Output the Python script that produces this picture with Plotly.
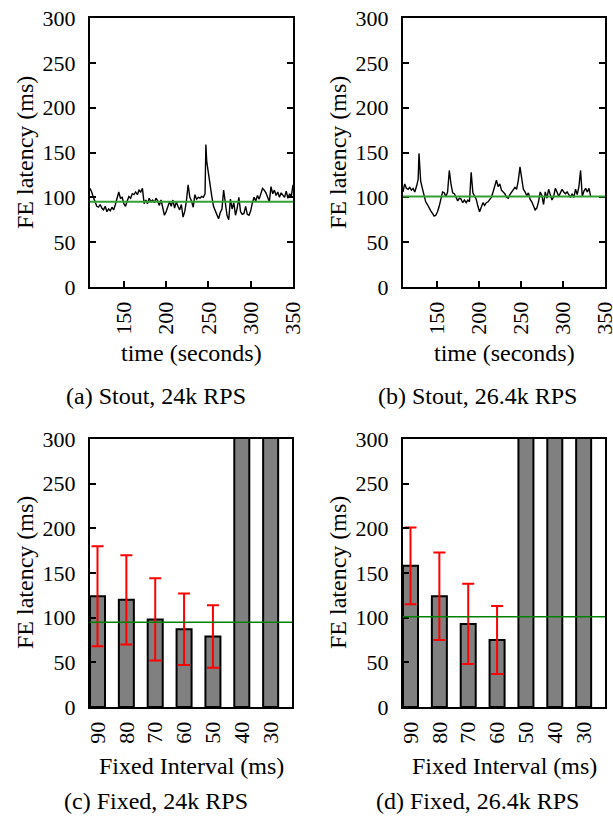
import plotly.graph_objects as go

# ---------------- data ----------------
t_a = [110,112,114,116,118,120,122,124,126,128,130,132,134,136,138,140,142,144,146,148,
       150,152,154,156,158,160,162,164,166,168,170,172,174,176,178,180,182,184,186,188,
       190,192,194,196,198,200,202,204,206,208,210,212,214,216,218,220,222,224,226,228,
       230,232,234,236,238,240,242,244,246,247,248,250,252,254,256,258,260,262,264,266,
       268,270,272,274,276,278,280,282,284,286,288,290,292,294,296,298,300,302,304,306,
       308,310,312,314,316,318,320,322,324,326,328,330,332,334,336,338,340,342,344,346,
       348,350]
lat_a = [110,106,100,95,90,89,92,88,86,90,84,87,85,89,86,92,98,106,99,100,
         93,90,96,101,99,104,103,106,103,108,106,110,93,97,93,99,95,97,94,99,
         96,91,97,87,80,84,90,95,90,97,88,95,90,86,92,78,84,96,114,100,
         96,89,103,98,100,99,101,100,104,159,140,125,112,101,90,85,81,76,83,87,
         108,92,80,75,98,87,94,80,88,100,84,81,82,90,81,80,85,94,100,96,
         102,98,104,110,108,105,100,95,112,104,108,102,106,100,105,103,100,107,99,104,
         101,114]
avg_a = 95

t_b = [110,112,114,116,118,120,122,124,126,128,129,131,133,135,137,139,141,143,145,147,
       149,151,153,155,157,159,161,163,165,167,169,171,173,175,177,179,181,183,185,187,
       189,191,193,195,197,199,201,203,205,207,209,211,213,215,217,219,221,223,225,227,
       229,231,233,235,237,239,241,243,245,247,249,251,253,255,257,259,261,263,265,267,
       269,271,273,275,277,279,281,283,285,287,289,291,293,295,297,299,301,303,305,307,
       309,311,313,315,317,319,321,323,325,327,329,331,333]
lat_b = [106,115,110,109,111,108,110,106,112,120,149,118,110,101,95,92,88,85,82,79,
         80,84,90,100,106,105,101,106,130,115,105,104,100,96,99,98,94,97,94,97,
         95,128,105,101,98,90,84,89,94,91,94,95,97,100,106,114,119,112,115,108,
         106,104,100,99,103,106,109,111,109,119,134,118,109,106,102,105,98,95,90,86,
         88,95,106,102,92,106,99,109,103,97,101,110,106,101,105,109,106,104,106,103,
         100,104,100,109,103,112,130,101,107,110,106,110,101]
avg_b = 101

intervals = ["90", "80", "70", "60", "50", "40", "30"]
fixed_c = [124, 120, 98, 87, 79, 1000, 1000]      # 40/30 ms bars run off the chart
err_c = [56, 50, 46, 40, 35, None, None]
fixed_d = [158, 124, 93, 75, 1000, 1000, 1000]    # 50/40/30 ms bars run off the chart
err_d = [43, 49, 45, 38, None, None, None]

y_ticks = [0, 50, 100, 150, 200, 250, 300]
x_ticks_time = [150, 200, 250, 300, 350]

W, H = 613, 824
FONT = "Liberation Serif"
TICK_FONT = dict(family=FONT, size=22, color="black")


def px_x(p):
    return p / W


def px_y(p):
    return 1 - p / H


fig = go.Figure()
fig.add_trace(go.Scatter(x=t_a, y=lat_a, mode="lines", line=dict(color="black", width=1.4),
                         xaxis="x", yaxis="y", showlegend=False))
fig.add_trace(go.Scatter(x=t_b, y=lat_b, mode="lines", line=dict(color="black", width=1.4),
                         xaxis="x2", yaxis="y2", showlegend=False))
pos = list(range(len(intervals)))
fig.add_trace(go.Bar(x=pos, y=fixed_c, width=0.52, xaxis="x3", yaxis="y3", showlegend=False,
                     marker=dict(color="#808080", line=dict(color="black", width=2)),
                     error_y=dict(type="data", array=[e if e else 0 for e in err_c],
                                  visible=True, color="red", thickness=2, width=6)))
fig.add_trace(go.Bar(x=pos, y=fixed_d, width=0.52, xaxis="x4", yaxis="y4", showlegend=False,
                     marker=dict(color="#808080", line=dict(color="black", width=2)),
                     error_y=dict(type="data", array=[e if e else 0 for e in err_d],
                                  visible=True, color="red", thickness=2, width=6)))

for ax, val, col, w in [("", avg_a, "#33a033", 2), ("2", avg_b, "#33a033", 2),
                        ("3", avg_a, "#008000", 1.5), ("4", avg_b, "#008000", 1.5)]:
    fig.add_shape(type="line", xref=f"x{ax} domain", yref=f"y{ax}", x0=0, x1=1,
                  y0=val, y1=val, line=dict(color=col, width=w), layer="above")

boxes = {
    "": (90, 293, 18, 287),
    "2": (403, 605, 18, 287),
    "3": (90, 292, 439, 707),
    "4": (403, 605, 439, 707),
}
common_axis = dict(showline=True, linecolor="black", linewidth=2, showgrid=False,
                   zeroline=False, tickfont=TICK_FONT, tickcolor="black", automargin=False,
                   ticklabeloverflow="allow")
layout = dict(width=W, height=H, margin=dict(l=0, r=0, t=0, b=0, pad=0, autoexpand=False),
              paper_bgcolor="white", plot_bgcolor="white", showlegend=False,
              font=dict(family=FONT, size=22, color="black"))
for k, (x0, x1, y0, y1) in boxes.items():
    xd = [px_x(x0), px_x(x1)]
    yd = [px_y(y1), px_y(y0)]
    xa = "xaxis" + k
    ya = "yaxis" + k
    if k in ("", "2"):
        layout[xa] = dict(common_axis, domain=xd, anchor="y" + k, range=[110, 350],
                          tickvals=x_ticks_time, ticks="inside", ticklen=6, tickwidth=1.5,
                          tickangle=-90, mirror=True, ticklabelstandoff=4)
        layout[ya] = dict(common_axis, domain=yd, anchor="x" + k, range=[0, 300],
                          tickvals=y_ticks, ticks="inside", ticklen=6, tickwidth=1.5,
                          mirror="ticks", ticklabelstandoff=8)
    else:
        layout[xa] = dict(common_axis, domain=xd, anchor="y" + k, range=[-0.26, 6.74],
                          tickvals=pos, ticktext=intervals, ticks="", tickangle=-90,
                          mirror=True, ticklabelstandoff=4)
        layout[ya] = dict(common_axis, domain=yd, anchor="x" + k, range=[0, 300],
                          tickvals=y_ticks, ticks="inside", ticklen=6, tickwidth=1.5,
                          mirror=True, ticklabelstandoff=8)
fig.update_layout(**layout)

ann = []


def add_text(txt, x, y, size=24, angle=0):
    ann.append(dict(text=txt, x=px_x(x), y=px_y(y), xref="paper", yref="paper",
                    showarrow=False, textangle=angle, xanchor="center", yanchor="middle",
                    font=dict(family=FONT, size=size, color="black")))


add_text("FE latency (ms)", 25, 153, angle=-90)
add_text("FE latency (ms)", 338, 153, angle=-90)
add_text("FE latency (ms)", 25, 573, angle=-90)
add_text("FE latency (ms)", 338, 573, angle=-90)
add_text("time (seconds)", 191, 353)
add_text("time (seconds)", 504, 353)
add_text("Fixed Interval (ms)", 191, 766)
add_text("Fixed Interval (ms)", 504, 766)
add_text("(a) Stout, 24k RPS", 156, 396)
add_text("(b) Stout, 26.4k RPS", 477, 396)
add_text("(c) Fixed, 24k RPS", 156, 801)
add_text("(d) Fixed, 26.4k RPS", 477, 801)
fig.update_layout(annotations=ann)

fig.write_html("out.html",
               config={"displayModeBar": False},
               post_script="document.body.style.margin='0px';"
                           "document.documentElement.style.overflow='hidden';")
